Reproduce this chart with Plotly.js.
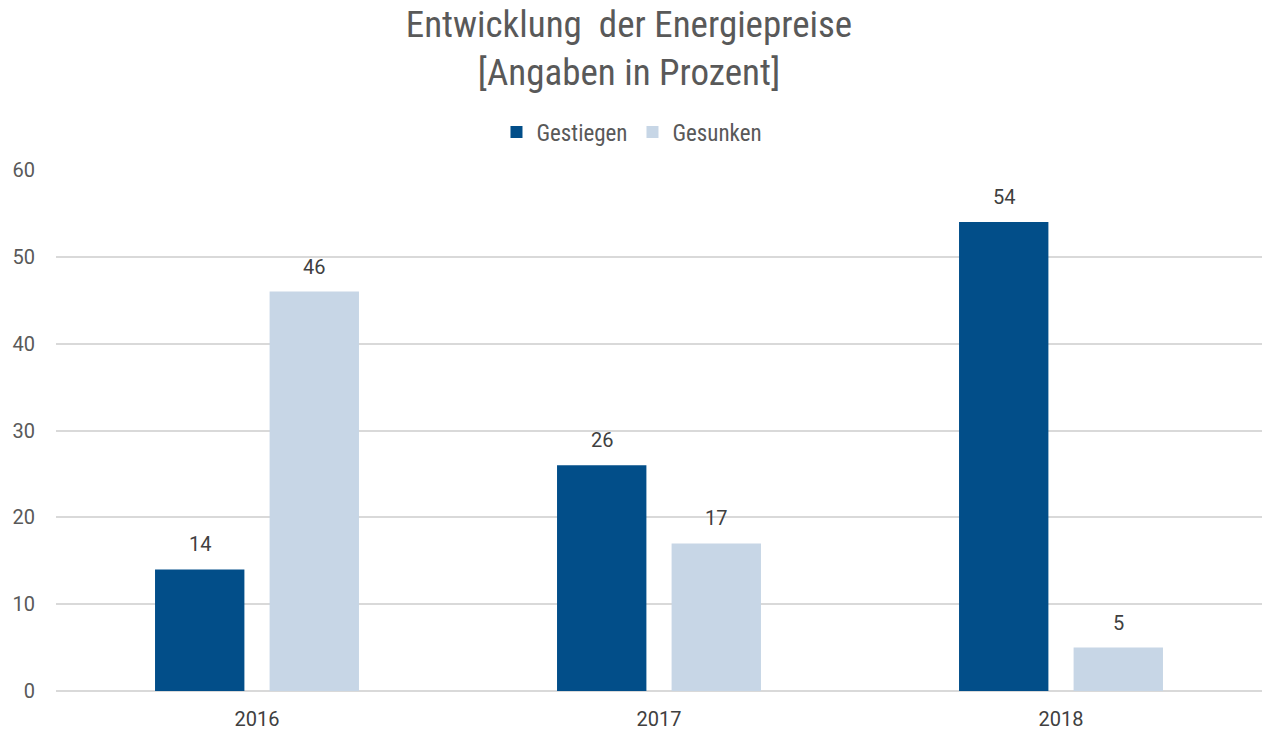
<!DOCTYPE html>
<html>
<head>
<meta charset="utf-8">
<script src="https://cdn.plot.ly/plotly-3.0.1.min.js"></script>
<style>html,body{margin:0;padding:0;background:#fff;}#chart{width:1263px;height:733px;}</style>
</head>
<body>
<div id="chart"></div>
<script>
const categories = ["2016", "2017", "2018"];
const gestiegen = [14, 26, 54];
const gesunken = [46, 17, 5];
const seriesNames = ["Gestiegen", "Gesunken"];
const yTicks = [0, 10, 20, 30, 40, 50, 60];

const colors = ["#024e89", "#c7d6e6"];
const labelFont = {family: "Roboto, 'Liberation Sans', sans-serif", size: 20, color: "#404040"};
const condFont = "'Liberation Sans Narrow', 'Roboto Condensed', 'DejaVu Sans Condensed', sans-serif";

const W = 1263, H = 733;
const margin = {l: 56, r: 1, t: 170, b: 42};
const bargap = 0.43, bargroupgap = 0.22;

const series = [gestiegen, gesunken];
const traces = series.map((vals, i) => ({
  type: "bar", name: seriesNames[i], x: categories, y: vals,
  marker: {color: colors[i]}, hoverinfo: "none"
}));

// value labels above each bar, offset to each bar's slot centre
const catWidth = (W - margin.l - margin.r) / categories.length;
const slot = catWidth * (1 - bargap) / series.length;
const annotations = [];
series.forEach((vals, i) => {
  const shift = (i - (series.length - 1) / 2) * slot;
  vals.forEach((v, j) => {
    annotations.push({x: j, y: v, xref: "x", yref: "y", text: String(v),
      showarrow: false, xanchor: "center", yanchor: "bottom", xshift: shift, yshift: 11,
      font: labelFont});
  });
});

const layout = {
  width: W, height: H, margin: margin,
  paper_bgcolor: "#ffffff", plot_bgcolor: "#ffffff",
  title: {text: "Entwicklung  der Energiepreise<br>[Angaben in Prozent]",
          font: {family: condFont, size: 37, color: "#595959"},
          x: 0.498, xanchor: "center", y: 0.950, yanchor: "middle", yref: "container"},
  barmode: "group", bargap: bargap, bargroupgap: bargroupgap,
  showlegend: true,
  legend: {orientation: "h", x: 0.4776, xanchor: "center", y: 1.073, yanchor: "middle",
           font: {family: condFont, size: 23, color: "#595959"}, traceorder: "normal"},
  annotations: annotations,
  xaxis: {type: "category", categoryarray: categories, range: [-0.5, categories.length - 0.5],
          showgrid: false, zeroline: false, showline: false, ticks: "",
          ticklabelstandoff: 14,
          tickfont: {family: "Roboto, sans-serif", size: 20, color: "#404040"}},
  yaxis: {range: [0, 60], tickvals: yTicks, showgrid: true, gridcolor: "#d9d9d9", gridwidth: 2,
          zeroline: true, zerolinecolor: "#d9d9d9", zerolinewidth: 2, showline: false, ticks: "",
          ticklabelstandoff: 20,
          tickfont: {family: "Roboto, sans-serif", size: 20, color: "#595959"}}
};

Plotly.newPlot("chart", traces, layout, {displayModeBar: false, staticPlot: true});
</script>
</body>
</html>
